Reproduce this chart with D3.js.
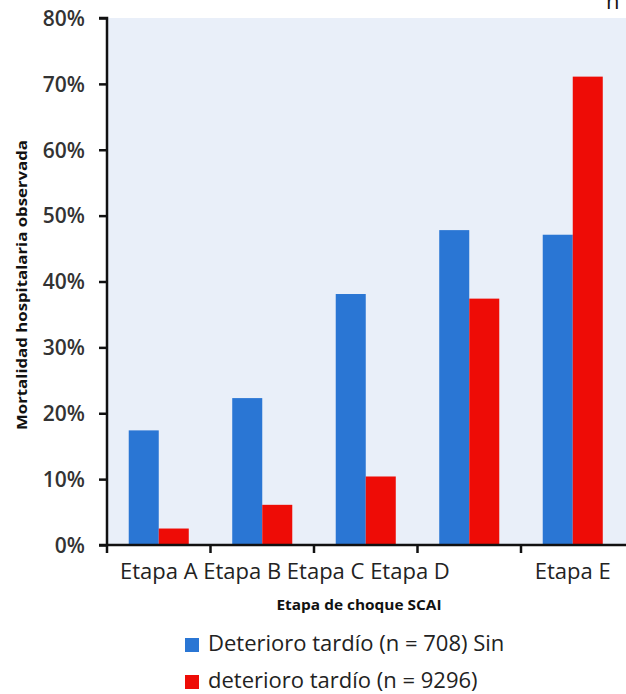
<!DOCTYPE html>
<html>
<head>
<meta charset="utf-8">
<script src="https://cdn.jsdelivr.net/npm/d3@7"></script>
<style>
  html, body { margin: 0; padding: 0; background: #fff; }
  svg { display: block; font-family: "Open Sans", "Noto Sans", sans-serif; }
</style>
</head>
<body>
<svg id="chart" width="626" height="694"></svg>
<script>
// Mortalidad hospitalaria observada por etapa de choque SCAI
const categories = ["Etapa A", "Etapa B", "Etapa C", "Etapa D", "Etapa E"];
const seriesNames = ["Deterioro tardío (n = 708) Sin", "deterioro tardío (n = 9296)"];
const seriesKeys = ["tardio", "sinTardio"];
const tardioValues = [17.4, 22.3, 38.1, 47.8, 47.1];
const sinTardioValues = [2.5, 6.1, 10.4, 37.4, 71.1];
const yTicks = [0, 10, 20, 30, 40, 50, 60, 70, 80];
const colors = ["#2a76d4", "#ee0c06"];

const rows = categories.map((c, i) => ({ cat: c, tardio: tardioValues[i], sinTardio: sinTardioValues[i] }));

const svg = d3.select("#chart");
const W = 626;
const plotLeft = 107, plotRight = 624.5, plotTop = 18, plotBottom = 545;

const x = d3.scaleBand().domain(categories).range([plotLeft, plotRight])
  .paddingInner(0.42).paddingOuter(0.21);
const xs = d3.scaleBand().domain(seriesKeys).range([0, x.bandwidth()]);
const y = d3.scaleLinear().domain([0, 80]).range([plotBottom, plotTop]);

// plot background
svg.append("rect").attr("x", plotLeft).attr("y", plotTop)
  .attr("width", W - plotLeft).attr("height", plotBottom - plotTop)
  .attr("fill", "#e9eff9");

// bars
const groups = svg.append("g").selectAll("g").data(rows).join("g")
  .attr("transform", d => `translate(${x(d.cat)},0)`);
groups.selectAll("rect").data(d => seriesKeys.map((k, i) => ({ k, i, v: d[k] })))
  .join("rect")
  .attr("x", d => xs(d.k))
  .attr("width", xs.bandwidth())
  .attr("y", d => y(d.v))
  .attr("height", d => y(0) - y(d.v))
  .attr("fill", d => colors[d.i]);

// y axis
const yAxis = svg.append("g").attr("transform", `translate(${plotLeft},0)`)
  .call(d3.axisLeft(y).tickValues(yTicks).tickFormat(d => d + "%").tickSize(8).tickPadding(14));
yAxis.select(".domain").attr("stroke", "#111").attr("stroke-width", 2.5)
  .attr("d", `M${-8},${plotTop}H0V${plotBottom}`);
yAxis.selectAll(".tick line").attr("stroke", "#111").attr("stroke-width", 2.5);
yAxis.selectAll(".tick text").attr("font-size", 21).attr("font-weight", 600).attr("fill", "#333")
  .attr("font-family", "'Open Sans', sans-serif").attr("dy", "0.35em");

// x axis: line along the bottom with ticks at band boundaries
const step = x.step();
const xLine = svg.append("g");
xLine.append("line").attr("x1", plotLeft - 8).attr("x2", W).attr("y1", plotBottom).attr("y2", plotBottom)
  .attr("stroke", "#111").attr("stroke-width", 2.5);
xLine.selectAll("line.tk").data(categories).join("line").attr("class", "tk")
  .attr("x1", d => x(d) - step * x.paddingInner() / 2)
  .attr("x2", d => x(d) - step * x.paddingInner() / 2)
  .attr("y1", plotBottom).attr("y2", plotBottom + 8)
  .attr("stroke", "#111").attr("stroke-width", 2.5);

// category labels: A–D run together as one line, E centred on its band
const labelFont = 22, labelY = 579;
const runText = svg.append("text").attr("y", labelY).attr("font-size", labelFont).attr("fill", "#222")
  .text(categories.slice(0, 4).join(" "));
const firstW = (() => {
  const t = svg.append("text").attr("font-size", labelFont).text(categories[0]);
  const w = t.node().getComputedTextLength(); t.remove(); return w;
})();
runText.attr("x", x(categories[0]) + x.bandwidth() / 2 - firstW / 2);
svg.append("text").attr("x", x(categories[4]) + x.bandwidth() / 2).attr("y", labelY)
  .attr("text-anchor", "middle").attr("font-size", labelFont).attr("fill", "#222")
  .text(categories[4]);

// axis titles
svg.append("text").attr("x", 359).attr("y", 610).attr("text-anchor", "middle")
  .attr("font-size", 15).attr("font-weight", 700).attr("fill", "#111")
  .attr("textLength", 165).attr("lengthAdjust", "spacingAndGlyphs")
  .text("Etapa de choque SCAI");
svg.append("text").attr("transform", "translate(27,285) rotate(-90)").attr("text-anchor", "middle")
  .attr("font-size", 15).attr("font-weight", 700).attr("fill", "#111")
  .attr("textLength", 290).attr("lengthAdjust", "spacingAndGlyphs")
  .text("Mortalidad hospitalaria observada");

// legend
const legend = svg.append("g").selectAll("g").data(seriesNames).join("g")
  .attr("transform", (d, i) => `translate(185,${638 + i * 37})`);
legend.append("rect").attr("width", 14).attr("height", 14).attr("fill", (d, i) => colors[i]);
legend.append("text").attr("x", 23).attr("y", 13).attr("font-size", 22).attr("fill", "#222")
  .text(d => d);

// heading fragment running off the top edge
svg.append("text").attr("x", 606).attr("y", 9).attr("font-size", 22).attr("fill", "#111").text("n");
</script>
</body>
</html>
